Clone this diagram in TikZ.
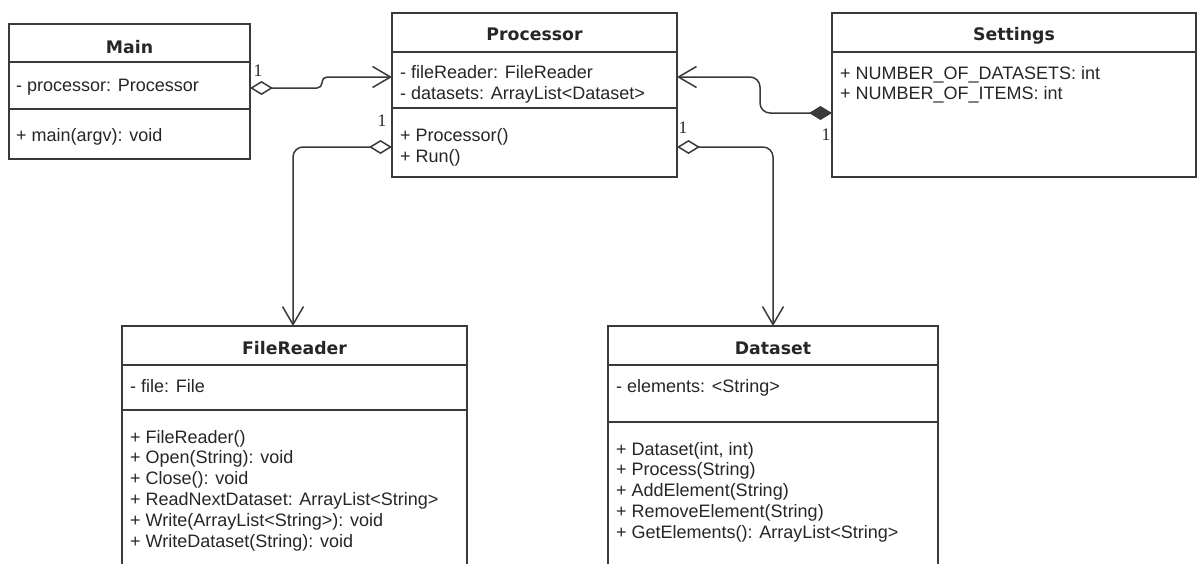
\documentclass[tikz,border=0pt]{standalone}
\usepackage{fontspec}
\setmainfont{Liberation Sans}
\newfontfamily\titlefont{DejaVu Sans}
\newfontfamily\multfont{Liberation Serif}
\usetikzlibrary{arrows.meta,calc}

\definecolor{linecol}{HTML}{3A3A3A}
\definecolor{txtcol}{HTML}{262626}

\tikzset{
  umlbox/.style={draw=linecol, line width=1.5pt, fill=white, inner sep=0pt,
    outer sep=0pt, anchor=north west},
  divider/.style={draw=linecol, line width=1.5pt},
  classname/.style={font=\titlefont\bfseries\fontsize{17.3}{20}\selectfont,
    text=txtcol, inner sep=0pt, anchor=base},
  member/.style={font=\fontsize{18}{20.8}\selectfont, text=txtcol,
    inner sep=0pt, anchor=base west},
  mult/.style={font=\multfont\fontsize{17.5}{19}\selectfont, text=txtcol,
    inner sep=0pt},
  conn/.style={draw=linecol, line width=1.5pt, rounded corners=9pt},
  opentip/.tip={Straight Barb[length=18pt,width=21pt]},
  hollowdia/.tip={Diamond[open,length=23pt,width=14pt,fill=white]},
  soliddia/.tip={Diamond[length=23pt,width=14pt]},
  aggr/.style={conn, {hollowdia}-{opentip}},
  compo/.style={conn, {soliddia}-{opentip}},
}

\begin{document}
\begin{tikzpicture}[x=1pt,y=-1pt]
  \useasboundingbox (0,0) rectangle (1198,563);
  \fill[white] (0,0) rectangle (1198,563);
  \clip (0,0) rectangle (1198,563);

  % ---------- class boxes ----------
  \node[umlbox, minimum width=241pt, minimum height=135pt] (main) at (9,24) {};
  \node[umlbox, minimum width=285pt, minimum height=164pt] (proc) at (392,13) {};
  \node[umlbox, minimum width=364pt, minimum height=164pt] (sett) at (832,13) {};
  \node[umlbox, minimum width=345pt, minimum height=260pt] (frd) at (122,326) {};
  \node[umlbox, minimum width=330pt, minimum height=260pt] (dset) at (608,326) {};

  % compartment lines
  \draw[divider] (9,62) -- (250,62);
  \draw[divider] (9,109) -- (250,109);
  \draw[divider] (392,52) -- (677,52);
  \draw[divider] (392,108) -- (677,108);
  \draw[divider] (832,52) -- (1196,52);
  \draw[divider] (122,365) -- (467,365);
  \draw[divider] (122,410) -- (467,410);
  \draw[divider] (608,365) -- (938,365);
  \draw[divider] (608,422) -- (938,422);

  % ---------- Main ----------
  \node[classname] (main-t) at (129.5,53) {Main};
  \node[member] (main-a1) at (16,91) {- processor: Processor};
  \node[member] (main-m1) at (16,141) {+ main(argv): void};

  % ---------- Processor ----------
  \node[classname] (proc-t) at (534.5,40) {Processor};
  \node[member] (proc-a1) at (400,78) {- fileReader: FileReader};
  \node[member] (proc-a2) at (400,99) {- datasets: ArrayList<Dataset>};
  \node[member] (proc-m1) at (400,141) {+ Processor()};
  \node[member] (proc-m2) at (400,162) {+ Run()};

  % ---------- Settings ----------
  \node[classname] (sett-t) at (1014,40) {Settings};
  \node[member] (sett-a1) at (840,79) {+ NUMBER\_OF\_DATASETS: int};
  \node[member] (sett-a2) at (840,99.8) {+ NUMBER\_OF\_ITEMS: int};

  % ---------- FileReader ----------
  \node[classname] (frd-t) at (294.5,354) {FileReader};
  \node[member] (frd-a1) at (130,392) {- file: File};
  \foreach [count=\i] \txt in {{+ FileReader()},{+ Open(String): void},
      {+ Close(): void},{+ ReadNextDataset: ArrayList<String>},
      {+ Write(ArrayList<String>): void},{+ WriteDataset(String): void}}
    \node[member] (frd-m\i) at (130,{443+20.8*(\i-1)}) {\txt};

  % ---------- Dataset ----------
  \node[classname] (dset-t) at (773,354) {Dataset};
  \node[member] (dset-a1) at (616,392) {- elements: <String>};
  \foreach [count=\i] \txt in {{+ Dataset(int, int)},{+ Process(String)},
      {+ AddElement(String)},{+ RemoveElement(String)},
      {+ GetElements(): ArrayList<String>}}
    \node[member] (dset-m\i) at (616,{455+20.8*(\i-1)}) {\txt};

  % ---------- connector end points ----------
  \coordinate (main-out) at ($(main.north east)+(0,64)$);
  \coordinate (proc-in1) at ($(proc.north west)+(0,64)$);
  \coordinate (proc-in2) at ($(proc.north east)+(0,64)$);
  \coordinate (proc-out1) at ($(proc.north west)+(0,134)$);
  \coordinate (proc-out2) at ($(proc.north east)+(0,134)$);
  \coordinate (sett-out) at ($(sett.north west)+(0,100)$);
  \coordinate (frd-in) at ($(frd.north west)+(171,0)$);
  \coordinate (dset-in) at ($(dset.north west)+(165,0)$);

  % ---------- associations ----------
  \draw[aggr, rounded corners=5pt] (main-out) -- (322,88) -- (322,77) -- (proc-in1);
  \draw[compo, rounded corners=10pt] (sett-out) -- (760,113) -- (760,77) -- (proc-in2);
  \draw[aggr, rounded corners=10pt] (proc-out1) -- (frd-in |- proc-out1) -- (frd-in);
  \draw[aggr, rounded corners=10pt] (proc-out2) -- (dset-in |- proc-out2) -- (dset-in);

  % ---------- multiplicities ----------
  \node[mult] (m-main) at (258,71) {1};
  \node[mult] (m-frd) at (382,121) {1};
  \node[mult] (m-dset) at (683,128) {1};
  \node[mult] (m-sett) at (826,135) {1};
\end{tikzpicture}
\end{document}
